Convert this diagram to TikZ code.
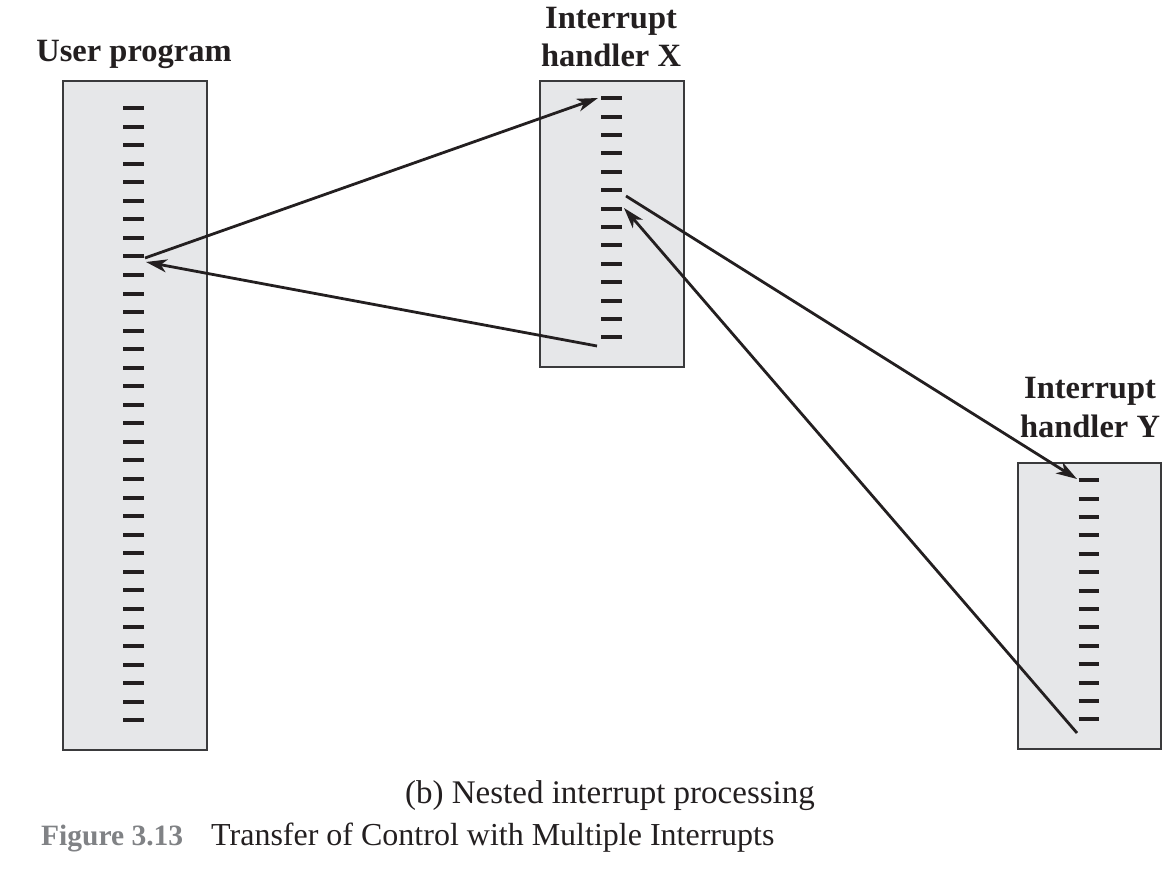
\documentclass[tikz,border=0pt]{standalone}
\usepackage{fontspec}
\setmainfont{Liberation Serif}
\usetikzlibrary{arrows.meta}
\definecolor{boxfill}{HTML}{E6E7E9}
\definecolor{boxline}{HTML}{3A3A3C}
\definecolor{ink}{HTML}{231F20}
\definecolor{figgray}{HTML}{808285}
\begin{document}
\begin{tikzpicture}[x=1pt,y=-1pt,
  progbox/.style={draw=boxline,fill=boxfill,line width=1.8pt,rectangle,inner sep=0pt,anchor=north west},
  dashline/.style={draw=ink,line width=4pt},
  flow/.style={draw=ink,line width=2.8pt,-{Stealth[length=21pt,width=13pt,inset=6pt]}},
  title/.style={font=\fontsize{32.5}{38}\selectfont\bfseries,text=ink,inner sep=0pt,anchor=base},
  capt/.style={font=\fontsize{33}{38}\selectfont,text=ink,inner sep=0pt,anchor=base}]
\useasboundingbox (0,0) rectangle (1171,872);
% boxes
\node[progbox,minimum width=144pt,minimum height=669pt] (user) at (62,80) {};
\node[progbox,minimum width=144pt,minimum height=286pt] (hx) at (539,80) {};
\node[progbox,minimum width=143pt,minimum height=286pt] (hy) at (1017,462) {};
% instruction dashes
\foreach \i in {0,...,33} {\pgfmathsetmacro\yy{round(108+\i*18.55)}
  \draw[dashline] (123,\yy) -- (144,\yy);}
\foreach \i in {0,...,13} {\pgfmathsetmacro\yy{round(98.3+\i*18.4)}
  \draw[dashline] (601,\yy) -- (621.5,\yy);}
\foreach \i in {0,...,13} {\pgfmathsetmacro\yy{round(480.3+\i*18.4)}
  \draw[dashline] (1078.5,\yy) -- (1099,\yy);}
% titles
\node[title] (tu) at (134,62) {User program};
\node[title] (tx1) at (611,29) {Interrupt};
\node[title] (tx2) at (611,67) {handler X};
\node[title] (ty1) at (1090,398) {Interrupt};
\node[title] (ty2) at (1090,437) {handler Y};
% arrow end points
\coordinate (u1) at (145,258);
\coordinate (u2) at (146,262);
\coordinate (x1) at (598,98);
\coordinate (x2) at (597,346);
\coordinate (x3) at (626,196);
\coordinate (x4) at (624,208);
\coordinate (y1) at (1077,479);
\coordinate (y2) at (1077,733);
% control transfers
\draw[flow] (u1) -- (x1);
\draw[flow] (x2) -- (u2);
\draw[flow] (x3) -- (y1);
\draw[flow] (y2) -- (x4);
% captions
\node[capt] (cb) at (610,803) {(b) Nested interrupt processing};
\node[capt,anchor=base west] (cf) at (41,845) {\textcolor{figgray}{\fontsize{29.5}{36}\selectfont\bfseries Figure 3.13}\hspace{28pt}{\fontsize{32}{38}\selectfont Transfer of Control with Multiple Interrupts}};
\end{tikzpicture}
\end{document}
